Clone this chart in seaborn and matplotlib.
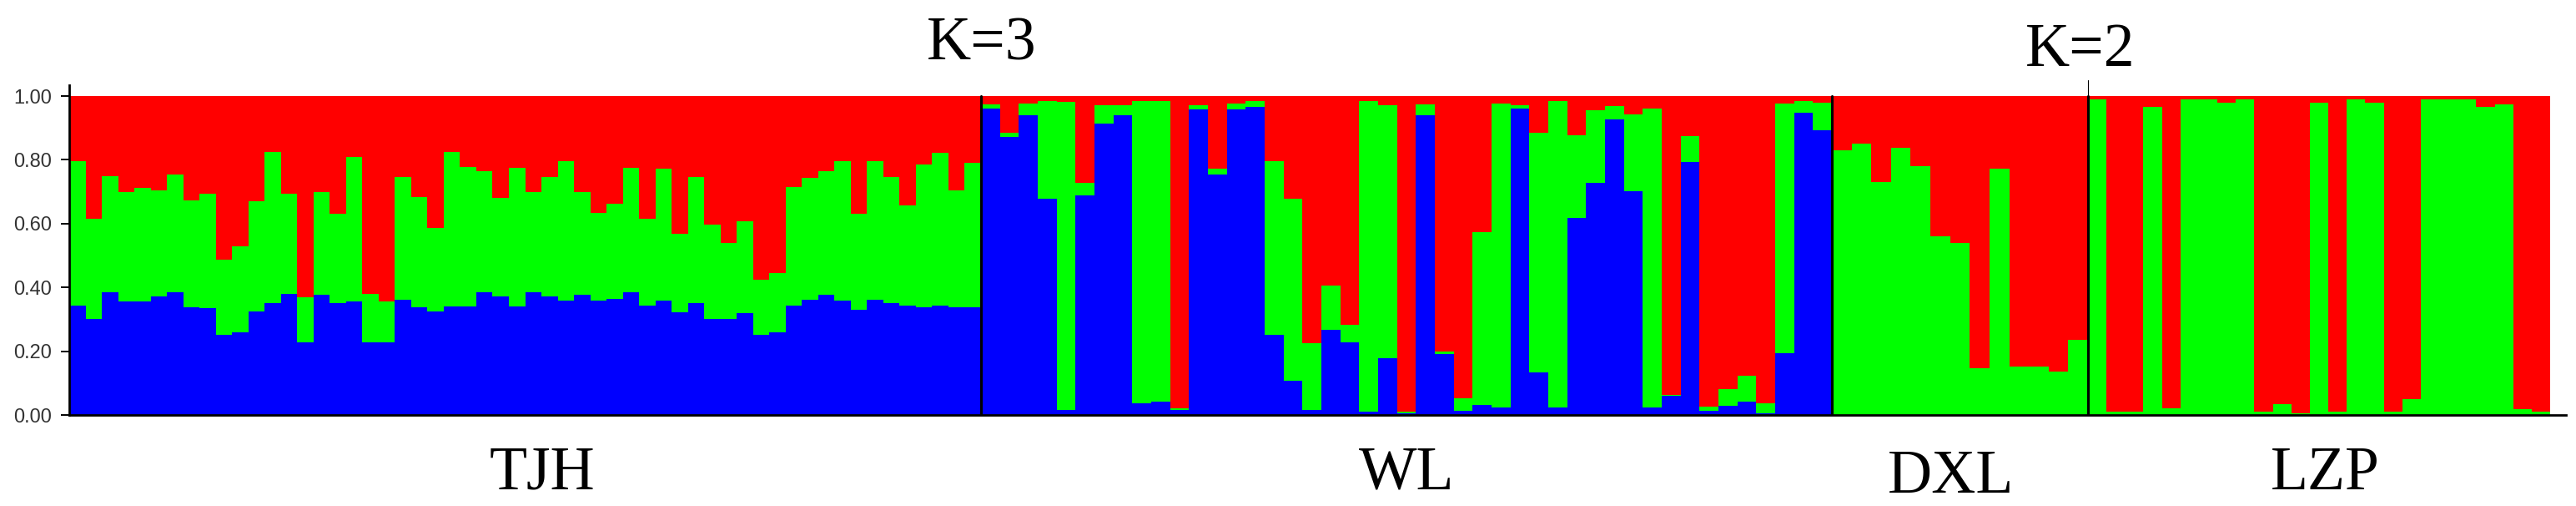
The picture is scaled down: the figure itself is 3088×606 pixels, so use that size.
import numpy as np
import pandas as pd
import matplotlib
matplotlib.use("Agg")
import matplotlib.pyplot as plt
import seaborn as sns

# STRUCTURE membership (Q) per individual
pops = ['TJH', 'WL', 'DXL', 'LZP']
k_labels = ['K=3', 'K=2']

tjh_blue = [0.343, 0.300, 0.384, 0.357, 0.357, 0.373, 0.384, 0.337, 0.334, 0.251,
            0.259, 0.325, 0.350, 0.380, 0.229, 0.378, 0.351, 0.356, 0.229, 0.229,
            0.360, 0.338, 0.325, 0.341, 0.340, 0.384, 0.373, 0.340, 0.384, 0.373,
            0.358, 0.378, 0.358, 0.364, 0.384, 0.344, 0.358, 0.322, 0.351, 0.300,
            0.300, 0.320, 0.251, 0.259, 0.344, 0.360, 0.378, 0.358, 0.330, 0.360,
            0.351, 0.344, 0.338, 0.343, 0.338, 0.338]
tjh_green = [0.454, 0.315, 0.365, 0.343, 0.355, 0.332, 0.371, 0.335, 0.360, 0.236,
             0.269, 0.345, 0.475, 0.314, 0.141, 0.322, 0.279, 0.452, 0.150, 0.127,
             0.386, 0.346, 0.262, 0.484, 0.437, 0.380, 0.308, 0.435, 0.316, 0.373,
             0.439, 0.322, 0.275, 0.298, 0.391, 0.271, 0.413, 0.245, 0.395, 0.296,
             0.238, 0.287, 0.172, 0.186, 0.370, 0.383, 0.386, 0.439, 0.301, 0.437,
             0.395, 0.313, 0.448, 0.478, 0.365, 0.452]

wl_blue = [0.962, 0.872, 0.941, 0.679, 0.015, 0.688, 0.913, 0.941, 0.037, 0.041,
           0.015, 0.959, 0.753, 0.959, 0.965, 0.252, 0.107, 0.015, 0.268, 0.229,
           0.010, 0.177, 0.005, 0.941, 0.190, 0.012, 0.032, 0.024, 0.962, 0.133,
           0.024, 0.618, 0.727, 0.928, 0.701, 0.024, 0.059, 0.793, 0.012, 0.028,
           0.041, 0.006, 0.194, 0.948, 0.893]
wl_green = [0.012, 0.013, 0.035, 0.306, 0.966, 0.039, 0.057, 0.029, 0.948, 0.944,
            0.005, 0.011, 0.018, 0.017, 0.018, 0.545, 0.570, 0.210, 0.138, 0.054,
            0.973, 0.793, 0.005, 0.033, 0.008, 0.040, 0.542, 0.952, 0.010, 0.753,
            0.959, 0.258, 0.229, 0.040, 0.242, 0.938, 0.004, 0.081, 0.014, 0.052,
            0.081, 0.031, 0.782, 0.035, 0.086]

dxl_green = [0.830, 0.850, 0.731, 0.839, 0.780, 0.559, 0.538, 0.147, 0.773, 0.152,
             0.152, 0.136, 0.236]
lzp_green = [0.990, 0.010, 0.010, 0.967, 0.020, 0.990, 0.990, 0.978, 0.990, 0.010,
             0.033, 0.005, 0.978, 0.010, 0.990, 0.978, 0.010, 0.049, 0.990, 0.990,
             0.990, 0.967, 0.974, 0.018, 0.010]

blues = [tjh_blue, wl_blue, [0.0] * len(dxl_green), [0.0] * len(lzp_green)]
greens = [tjh_green, wl_green, dxl_green, lzp_green]

# layout: pixel width of each population block, and the figure size
W, H = 3088, 606
x0, x_end = 83, 3076
y_top, y_bot = 102, 497
pop_span = [1093, 1020, 307, 554]

rows = []
edges = []
start = 0.0
for pop, span, blue, green in zip(pops, pop_span, blues, greens):
    n = len(green)
    e = start + span * np.arange(n + 1) / n
    mids = (e[:-1] + e[1:]) / 2
    for m, b, g in zip(mids, blue, green):
        rows.append((pop, m, 'blue', b))
        rows.append((pop, m, 'green', g))
        rows.append((pop, m, 'red', 1 - b - g))
    edges.extend(e[:-1].tolist())
    start += span
edges.append(start)
df = pd.DataFrame(rows, columns=['pop', 'x', 'cluster', 'q'])

sns.set_style('white')
plt.rcParams['font.family'] = ['Liberation Sans Narrow', 'Liberation Sans', 'DejaVu Sans']

fig = plt.figure(figsize=(W / 100, H / 100), dpi=100)
ax = fig.add_axes([x0 / W, 1 - y_bot / H, (x_end - x0) / W, (y_bot - y_top) / H])

sns.histplot(data=df, x='x', weights='q', hue='cluster',
             hue_order=['red', 'green', 'blue'], multiple='stack', bins=edges,
             palette={'red': '#ff0000', 'green': '#00ff00', 'blue': '#0000ff'},
             alpha=1, linewidth=0, antialiased=False, legend=False, ax=ax)

ytop = 1 / (1 - (115 - y_top) / (y_bot - y_top))
ax.set_xlim(0, x_end - x0)
ax.set_ylim(0, ytop)
ax.set_xlabel('')
ax.set_ylabel('')
ax.set_xticks([])
ax.set_yticks([0, 0.2, 0.4, 0.6, 0.8, 1.0])
ax.set_yticklabels([f'{v:.2f}' for v in [0, 0.2, 0.4, 0.6, 0.8, 1.0]])
ax.tick_params(axis='y', left=True, length=7, width=1.4, color='black',
               labelsize=17, labelcolor='#333333', pad=8)
for s in ['top', 'right']:
    ax.spines[s].set_visible(False)
for s in ['left', 'bottom']:
    ax.spines[s].set_color('black')
    ax.spines[s].set_linewidth(2)

# population separators
bounds = np.cumsum(pop_span)[:-1]
for b in bounds:
    ax.axvline(b, ymin=0, ymax=1 / ytop, color='black', lw=2.2)
ax.axvline(bounds[2], ymin=1 / ytop, ymax=1.015, color='black', lw=0.8, clip_on=False)

serif = ['Liberation Serif', 'DejaVu Serif']
pop_xy = [(650, 586), (1686, 586), (2339, 590), (2787, 586)]
for name, (px, py) in zip(pops, pop_xy):
    fig.text(px / W, 1 - py / H, name, ha='center', va='baseline',
             fontsize=53, family=serif, color='black')
k_xy = [(1177, 72), (2494, 79)]
for name, (px, py) in zip(k_labels, k_xy):
    fig.text(px / W, 1 - py / H, name, ha='center', va='baseline',
             fontsize=53, family=serif, color='black')

fig.savefig('out.png', dpi=100)
